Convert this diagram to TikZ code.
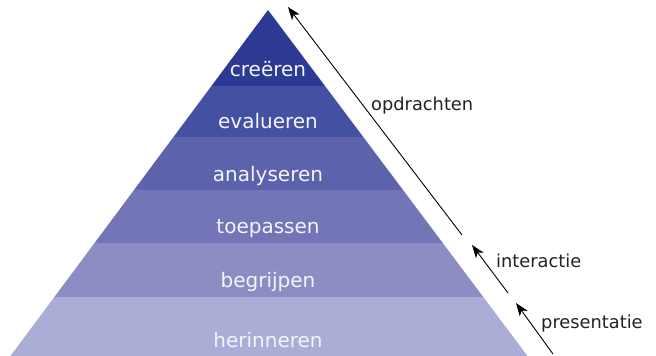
\documentclass[tikz,border=0pt]{standalone}
\usepackage{fontspec}
\setmainfont{DejaVu Sans}
\usetikzlibrary{arrows.meta}
\definecolor{c1}{HTML}{2C3A93}
\definecolor{c2}{HTML}{4451A3}
\definecolor{c3}{HTML}{5C62AC}
\definecolor{c4}{HTML}{7375B7}
\definecolor{c5}{HTML}{8C8DC3}
\definecolor{c6}{HTML}{AAADD5}
\definecolor{lbl}{HTML}{F4F4FA}
\definecolor{side}{HTML}{222222}
\tikzset{
  level/.style={anchor=base, text=lbl, font=\fontsize{20}{24}\selectfont, inner sep=0pt},
  sidelabel/.style={anchor=base west, text=side, font=\fontsize{17.8}{22}\selectfont, inner sep=0pt},
  arr/.style={-{Stealth[length=13pt,width=9.5pt,inset=3.5pt]}, line width=0.9pt, black},
}
\begin{document}
\begin{tikzpicture}[x=1pt,y=-1pt]
\useasboundingbox (0,0) rectangle (656,356);
\begin{scope}
\clip (268,10) -- (10,356.6) -- (528,356.6) -- cycle;
\fill[c1] (0,0) rectangle (656,86);
\fill[c2] (0,86) rectangle (656,137);
\fill[c3] (0,137) rectangle (656,190);
\fill[c4] (0,190) rectangle (656,243);
\fill[c5] (0,243) rectangle (656,296.5);
\fill[c6] (0,296.5) rectangle (656,357);
\end{scope}
\node[level] (cre) at (268,76) {creëren};
\node[level] (eva) at (268,128) {evalueren};
\node[level] (ana) at (268,181) {analyseren};
\node[level] (toe) at (268,233) {toepassen};
\node[level] (beg) at (268,287) {begrijpen};
\node[level] (her) at (268,347) {herinneren};
\node[sidelabel] (opd) at (371,110) {opdrachten};
\node[sidelabel] (int) at (496,267) {interactie};
\node[sidelabel] (pre) at (541,328) {presentatie};
\coordinate (a1s) at (462,235);
\coordinate (a1e) at (288,7);
\coordinate (a2s) at (508,293);
\coordinate (a2e) at (472,245);
\coordinate (a3s) at (553,354);
\coordinate (a3e) at (516,303);
\draw[arr] (a1s) -- (a1e);
\draw[arr] (a2s) -- (a2e);
\draw[arr] (a3s) -- (a3e);
\end{tikzpicture}
\end{document}
